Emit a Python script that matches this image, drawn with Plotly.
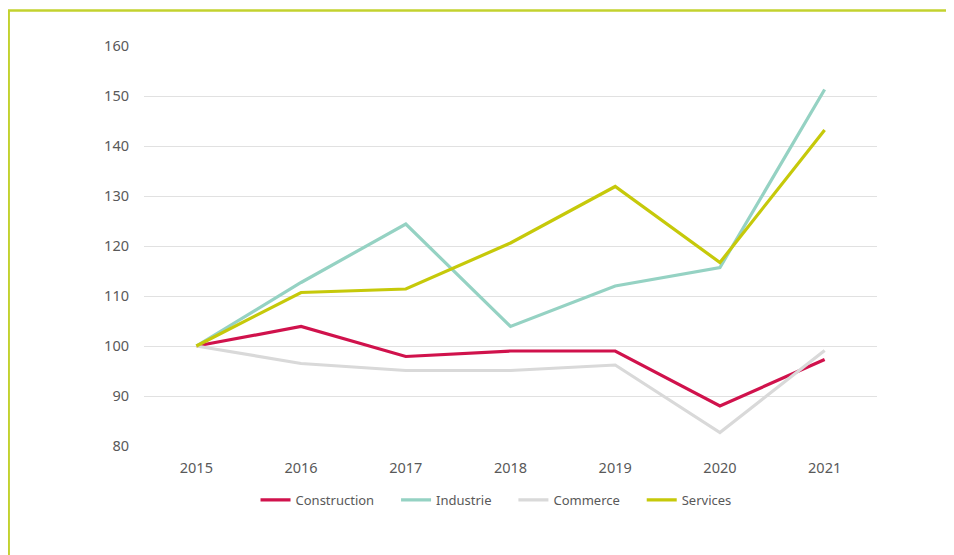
import plotly.graph_objects as go

years = ["2015", "2016", "2017", "2018", "2019", "2020", "2021"]
construction = [100, 103.9, 97.9, 99.0, 99.0, 88.0, 97.3]
industrie = [100, 112.7, 124.4, 103.9, 112.0, 115.7, 151.3]
commerce = [100, 96.5, 95.1, 95.1, 96.2, 82.7, 99.1]
services = [100, 110.7, 111.4, 120.6, 131.9, 116.7, 143.2]
y_ticks = [80, 90, 100, 110, 120, 130, 140, 150, 160]

series = [
    ("Construction", construction, "#d0124c"),
    ("Industrie", industrie, "#95d2c3"),
    ("Commerce", commerce, "#d9d9d9"),
    ("Services", services, "#c6c90a"),
]

NB = "\u00a0" * 5
fig = go.Figure()
for i, (name, vals, col) in enumerate(series):
    label = name + (NB if i < len(series) - 1 else "")
    fig.add_trace(go.Scatter(x=years, y=vals, name=label, mode="lines",
                             line=dict(color=col, width=3.2)))

# page body has an 8px margin; figure coordinates = reference coordinates - 8
OFF = 8
W, H = 954 - OFF, 555 - OFF
ml, mr, mt, mb = 143.5 - OFF, 954 - 877.5, 46 - OFF, 555 - 446
pw = W - ml - mr
ph = H - mt - mb

def px_x(p):
    return (p - OFF - ml) / pw

def px_y(p):
    return (H - mb - (p - OFF)) / ph

fig.update_layout(
    width=W, height=H,
    margin=dict(l=ml, r=mr, t=mt, b=mb, pad=0),
    paper_bgcolor="white", plot_bgcolor="white",
    font=dict(family="Noto Sans, Open Sans, sans-serif", size=13, color="#595959"),
    showlegend=True,
    legend=dict(orientation="h", x=px_x(496), xanchor="center", y=px_y(500), yanchor="middle",
                font=dict(size=13, color="#595959"), tracegroupgap=0),
    xaxis=dict(type="category", showgrid=False, zeroline=False, showline=False,
               ticks="", ticklabelstandoff=11, range=[-0.5, 6.5],
               tickfont=dict(size=14.5)),
    yaxis=dict(range=[80, 160], tickvals=y_ticks, showgrid=True, gridcolor="#e1e1e1",
               gridwidth=1.2, zeroline=False, showline=False, ticks="",
               ticklabelstandoff=14, tickfont=dict(size=14.5)),
    shapes=[dict(type="path", xref="paper", yref="paper",
                 path=f"M {px_x(8)},{px_y(560)} L {px_x(8)},{px_y(10.5)} L {px_x(960)},{px_y(10.5)}",
                 line=dict(color="#c3d22f", width=2.5))],
)

fig.write_html("out.html")
